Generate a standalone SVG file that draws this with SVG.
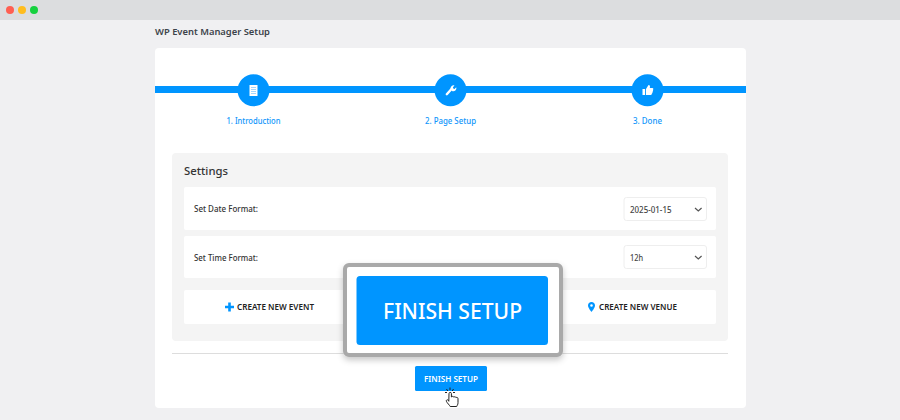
<svg xmlns="http://www.w3.org/2000/svg" width="900" height="420" viewBox="0 0 900 420">
<defs>
<style>
text{font-family:"Noto Sans","Open Sans","Liberation Sans",sans-serif}
.step{font-size:8px;fill:#0f96fb;font-weight:500;text-anchor:middle}
.lbl{font-size:8px;fill:#333;font-weight:500}
.sel{fill:#fff;stroke:#eeeeee;stroke-width:1}
.val{font-size:8.800px;fill:#444;font-weight:500}
.row{fill:#fff}
.act{font-size:8px;fill:#222;font-weight:600}
.chev{fill:none;stroke:#555;stroke-width:1.2}
.blue{fill:#0095ff}
</style>
<filter id="sh" x="-10%" y="-15%" width="120%" height="135%"><feDropShadow dx="0" dy="3" stdDeviation="3" flood-color="#000" flood-opacity=".22"/></filter>
</defs>
<rect width="900" height="420" fill="#f0f0f2"/>
<rect width="900" height="20" fill="#dcdddf"/>
<circle cx="10" cy="10" r="4" fill="#ff5f52"/>
<circle cx="22" cy="10" r="4" fill="#ffbd1f"/>
<circle cx="34" cy="10" r="4" fill="#16d13f"/>
<text x="155" y="34.500" font-size="9.600" font-weight="600" fill="#3c434a" textLength="115" lengthAdjust="spacingAndGlyphs">WP Event Manager Setup</text>
<rect x="155" y="48" width="591" height="360" rx="4" fill="#fff"/>
<g id="connectors"><rect x="155" y="86" width="591" height="7" class="blue"/></g>
<g id="step1"><circle cx="253.5" cy="90.3" r="16" class="blue"/>
<rect x="249.5" y="85" width="8" height="11" fill="#fff"/><path d="M251 87.500h5M251 89.500h5M251 91.500h5M251 93.500h5" stroke="#8ccbff" stroke-width=".8"/>
<text x="253.5" y="123.5" class="step" textLength="54" lengthAdjust="spacingAndGlyphs">1. Introduction</text></g>
<g id="step2"><circle cx="450.5" cy="90.3" r="16" class="blue"/>
<path d="M446.800 94.200L451.500 89" stroke="#fff" stroke-width="2.400" stroke-linecap="round"/><path d="M450.500 88.500a3 3 0 0 1 4-3l-1.600 1.700.4 1.300 1.300.4 1.600-1.700a3 3 0 0 1-4.200 3.700z" fill="#fff"/>
<text x="450.5" y="123.5" class="step" textLength="51" lengthAdjust="spacingAndGlyphs">2. Page Setup</text></g>
<g id="step3"><circle cx="647.5" cy="90.3" r="16" class="blue"/>
<rect x="642.5" y="89" width="2.6" height="6" fill="#fff"/><path d="M646 89l2.500-4c1.500 0 1.800 1.200 1.300 3h2.500c1.300 0 1.200 1.600.6 2 .4.700.2 1.500-.4 1.800.2.800-.1 1.400-.6 1.700 0 .9-.5 1.500-1.400 1.500H646z" fill="#fff"/>
<text x="647.500" y="123.500" class="step" textLength="29" lengthAdjust="spacingAndGlyphs">3. Done</text></g>
<g id="settings"><rect x="172" y="153" width="556" height="188" rx="4" fill="#f4f4f4"/>
<text x="184" y="175" font-size="11" font-weight="500" fill="#333" textLength="44" lengthAdjust="spacingAndGlyphs">Settings</text></g>
<g id="date-row"><rect x="184" y="187" width="532" height="43" rx="2" class="row"/>
<text x="194" y="211.500" class="lbl" textLength="64" lengthAdjust="spacingAndGlyphs">Set Date Format:</text>
<rect x="624" y="197.500" width="82.500" height="23" rx="2.500" class="sel"/>
<text x="630" y="212.500" class="val" textLength="41.500" lengthAdjust="spacingAndGlyphs">2025-01-15</text><path d="M695 208l3.300 3 3.300-3" class="chev"/></g>
<g id="time-row"><rect x="184" y="236" width="532" height="42" rx="2" class="row"/>
<text x="194" y="260.500" class="lbl" textLength="64" lengthAdjust="spacingAndGlyphs">Set Time Format:</text>
<rect x="624" y="245.500" width="82.500" height="23" rx="2.500" class="sel"/>
<text x="630" y="261" class="val" textLength="13" lengthAdjust="spacingAndGlyphs">12h</text><path d="M695 256l3.300 3 3.300-3" class="chev"/></g>
<g id="actions"><rect x="184" y="290" width="532" height="34" rx="2" class="row"/>
<path d="M229.500 302.500V311.500M225 307H234" stroke="#0095ff" stroke-width="2.600"/>
<text x="237" y="310" class="act" textLength="77" lengthAdjust="spacingAndGlyphs">CREATE NEW EVENT</text>
<path d="M591.500 302c-2 0-3.500 1.500-3.500 3.500 0 2.400 3.500 6.500 3.500 6.500s3.500-4.100 3.500-6.500c0-2-1.500-3.500-3.500-3.500zm0 2.200a1.300 1.300 0 1 1 0 2.600 1.300 1.300 0 0 1 0-2.600z" fill="#0095ff"/>
<text x="599" y="310" class="act" textLength="78" lengthAdjust="spacingAndGlyphs">CREATE NEW VENUE</text></g>
<rect x="172" y="353" width="556" height="1" fill="#dddddd"/>
<g id="finish"><rect x="415" y="366" width="72" height="25" rx="1.500" class="blue"/>
<text x="451" y="382" font-size="8" font-weight="600" fill="#fff" text-anchor="middle" textLength="54" lengthAdjust="spacingAndGlyphs">FINISH SETUP</text></g>
<g id="cursor"><path d="M449 393.500c0-1.500 2.400-1.500 2.400 0v3.500c.5-1 2.200-.8 2.400.2.500-.8 2-.5 2.200.4.700-.5 2-.2 2 1v4c0 2-.8 2.600-1.300 3.900h-6.500c-.6-1.400-3-3.300-3.800-5.200-.5-1.400 1-2 2-1l.4 1z" fill="#fff" stroke="#222" stroke-width="1"/>
<path d="M450 387.500v2.500M446.500 389l1.300 2M453.500 389l-1.300 2M445 392.500h2M455 392.500h-2" stroke="#222" stroke-width="1"/></g>
<g id="callout"><rect x="345" y="265" width="216" height="90" rx="4" fill="#fff" stroke="#a9a9a9" stroke-width="4" filter="url(#sh)"/>
<rect x="356.500" y="276" width="191.500" height="69" rx="3.500" class="blue"/>
<text x="452.500" y="319" font-size="21" font-weight="500" fill="#fff" text-anchor="middle" textLength="139" lengthAdjust="spacingAndGlyphs">FINISH SETUP</text></g>
</svg>
